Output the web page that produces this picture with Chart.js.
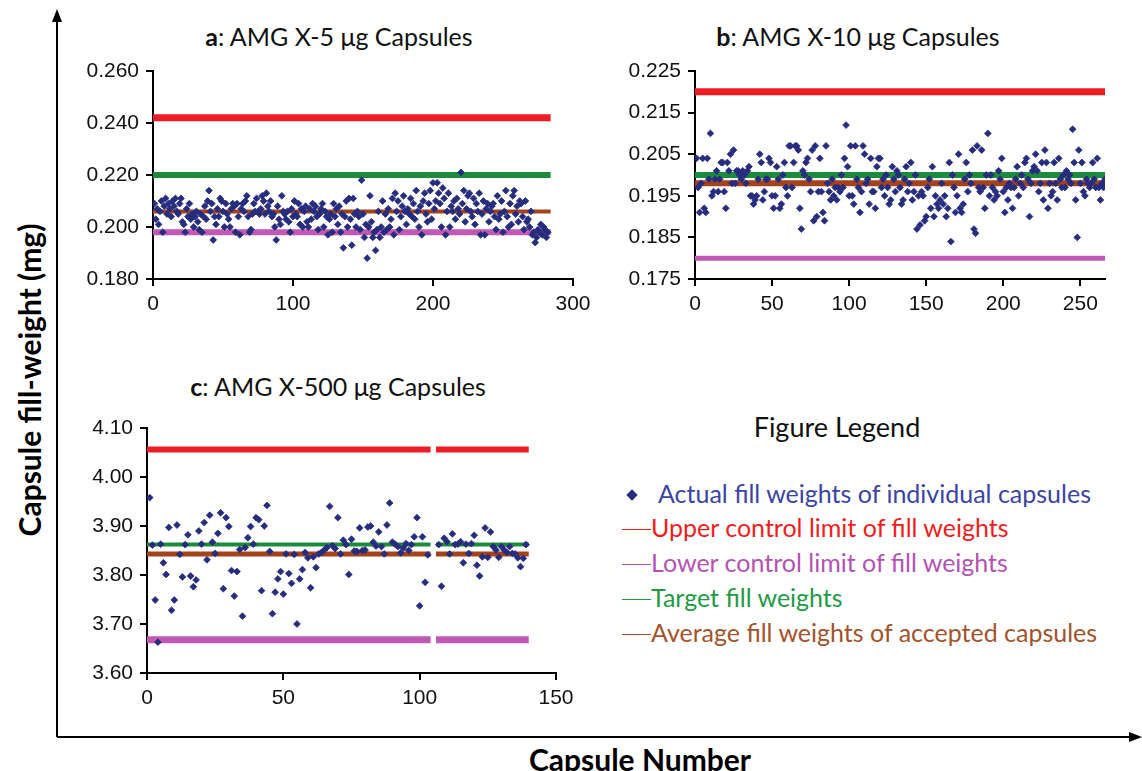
<!DOCTYPE html>
<html lang="en">
<head>
<meta charset="UTF-8">
<title>Capsule fill weights</title>
<script src="https://cdn.jsdelivr.net/npm/chart.js"></script>
<style>
    body {
        margin: 0;
        width: 1142px;
        height: 771px;
        overflow: hidden;
        position: relative;
        background: #fff;
        font-family: Lato, "Open Sans", sans-serif;
    }

    canvas, .ttl, .lg, #frame, .axTitle {
        position: absolute;
    }

    .ttl {
        width: 480px;
        text-align: center;
        font-size: 25px;
        line-height: 30px;
        color: #111;
        white-space: nowrap;
    }

    .lg {
        font-size: 25px;
        line-height: 30px;
        white-space: nowrap;
    }

    .axTitle {
        font-weight: bold;
        font-size: 30px;
        color: #000;
        white-space: nowrap;
    }
</style>
</head>

<body>
    <svg id="frame" width="1142" height="771" style="left:0;top:0">
        <line x1="57" y1="18" x2="57" y2="737" stroke="#000" stroke-width="2" />
        <polygon points="57,9 52,22 62,22" fill="#000" />
        <line x1="57" y1="737" x2="1132" y2="737" stroke="#000" stroke-width="2" />
        <polygon points="1142,737 1129,732 1129,742" fill="#000" />
    </svg>

    <div class="axTitle" id="yTitle"></div>
    <div class="axTitle" id="xTitle"></div>

    <div class="ttl" style="left:99px;top:21px"><b>a</b>: AMG X-5 &#956;g Capsules</div>
    <div class="ttl" style="left:618px;top:21px"><b>b</b>: AMG X-10 &#956;g Capsules</div>
    <div class="ttl" style="left:98px;top:371px"><b>c</b>: AMG X-500 &#956;g Capsules</div>

    <canvas id="chartA" width="545" height="270" style="left:60px;top:50px"></canvas>
    <canvas id="chartB" width="542" height="270" style="left:600px;top:50px"></canvas>
    <canvas id="chartC" width="540" height="310" style="left:55px;top:405px"></canvas>

    <div id="legend"></div>

    <script>
        var yAxisName = 'Capsule fill-weight (mg)';
        var xAxisName = 'Capsule Number';
        var pointName = 'Actual fill weights of individual capsules';
        var lineNames = ['Upper control limit of fill weights', 'Lower control limit of fill weights',
            'Target fill weights', 'Average fill weights of accepted capsules'];

        // control lines: upper, lower, target, average
        var limitsA = [0.242, 0.198, 0.220, 0.206];
        var limitsB = [0.220, 0.180, 0.200, 0.198];
        var limitsC = [4.056, 3.668, 3.862, 3.843];
        var lastA = 284;
        var lastB = 266;
        var lastC = 140;
        var gapC = [104, 106];

        var ticksAx = [0, 100, 200, 300];
        var ticksAy = [0.18, 0.20, 0.22, 0.24, 0.26];
        var ticksBx = [0, 50, 100, 150, 200, 250];
        var ticksBy = [0.175, 0.185, 0.195, 0.205, 0.215, 0.225];
        var ticksCx = [0, 50, 100, 150];
        var ticksCy = [3.6, 3.7, 3.8, 3.9, 4.0, 4.1];

        // fill weight of each capsule, capsule 1 first
        var weightsA = [
            0.209, 0.203, 0.207, 0.201, 0.206, 0.210, 0.198, 0.208, 0.211, 0.205, 0.209, 0.207, 0.204, 0.210, 0.208, 0.211, 0.206, 0.205, 0.209, 0.211,
            0.202, 0.201, 0.198, 0.207, 0.204, 0.209, 0.203, 0.205, 0.200, 0.204, 0.206, 0.202, 0.199, 0.205, 0.198, 0.204, 0.208, 0.203, 0.210, 0.214,
            0.206, 0.209, 0.195, 0.204, 0.201, 0.207, 0.204, 0.211, 0.210, 0.206, 0.200, 0.209, 0.205, 0.203, 0.200, 0.207, 0.209, 0.208, 0.198, 0.209,
            0.204, 0.197, 0.207, 0.209, 0.206, 0.210, 0.212, 0.204, 0.198, 0.199, 0.205, 0.209, 0.206, 0.211, 0.206, 0.205, 0.207, 0.212, 0.210, 0.205,
            0.213, 0.208, 0.206, 0.210, 0.204, 0.205, 0.200, 0.195, 0.208, 0.203, 0.201, 0.212, 0.206, 0.205, 0.203, 0.206, 0.202, 0.198, 0.207, 0.204,
            0.210, 0.205, 0.204, 0.209, 0.201, 0.207, 0.200, 0.206, 0.208, 0.202, 0.200, 0.207, 0.203, 0.209, 0.206, 0.208, 0.204, 0.199, 0.205, 0.207,
            0.209, 0.200, 0.206, 0.204, 0.197, 0.203, 0.205, 0.198, 0.209, 0.204, 0.207, 0.201, 0.208, 0.198, 0.205, 0.192, 0.204, 0.210, 0.200, 0.211,
            0.203, 0.193, 0.211, 0.205, 0.200, 0.206, 0.204, 0.199, 0.218, 0.205, 0.196, 0.201, 0.188, 0.200, 0.212, 0.202, 0.196, 0.198, 0.191, 0.199,
            0.206, 0.196, 0.200, 0.210, 0.198, 0.205, 0.199, 0.207, 0.200, 0.203, 0.211, 0.197, 0.213, 0.206, 0.210, 0.199, 0.204, 0.208, 0.212, 0.206,
            0.201, 0.207, 0.205, 0.211, 0.204, 0.209, 0.203, 0.214, 0.206, 0.200, 0.208, 0.197, 0.210, 0.213, 0.205, 0.202, 0.209, 0.214, 0.203, 0.217,
            0.207, 0.210, 0.217, 0.213, 0.209, 0.200, 0.215, 0.211, 0.197, 0.206, 0.213, 0.200, 0.208, 0.206, 0.210, 0.203, 0.211, 0.207, 0.205, 0.221,
            0.209, 0.214, 0.202, 0.207, 0.212, 0.213, 0.206, 0.204, 0.211, 0.201, 0.209, 0.206, 0.213, 0.197, 0.205, 0.210, 0.197, 0.207, 0.209, 0.202,
            0.206, 0.208, 0.209, 0.204, 0.199, 0.212, 0.203, 0.205, 0.210, 0.198, 0.206, 0.214, 0.204, 0.200, 0.209, 0.201, 0.212, 0.214, 0.205, 0.208,
            0.202, 0.210, 0.209, 0.204, 0.199, 0.210, 0.202, 0.203, 0.200, 0.206, 0.197, 0.198, 0.194, 0.196, 0.199, 0.198, 0.201, 0.197, 0.200, 0.199,
            0.196, 0.198
        ];

        var weightsB = [
            0.204, 0.197, 0.191, 0.198, 0.204, 0.192, 0.191, 0.204, 0.199, 0.210, 0.195, 0.196, 0.199, 0.201, 0.196, 0.199, 0.203, 0.203, 0.196, 0.192,
            0.203, 0.201, 0.205, 0.198, 0.206, 0.198, 0.201, 0.201, 0.200, 0.199, 0.201, 0.200, 0.198, 0.201, 0.202, 0.195, 0.195, 0.193, 0.194, 0.195,
            0.199, 0.205, 0.203, 0.194, 0.196, 0.199, 0.199, 0.204, 0.203, 0.195, 0.192, 0.195, 0.202, 0.199, 0.192, 0.193, 0.200, 0.203, 0.197, 0.195,
            0.207, 0.207, 0.197, 0.203, 0.207, 0.207, 0.206, 0.192, 0.187, 0.201, 0.200, 0.203, 0.204, 0.199, 0.196, 0.206, 0.189, 0.207, 0.190, 0.196,
            0.204, 0.196, 0.191, 0.189, 0.207, 0.198, 0.196, 0.194, 0.199, 0.195, 0.197, 0.194, 0.197, 0.196, 0.200, 0.197, 0.204, 0.212, 0.202, 0.195,
            0.207, 0.195, 0.193, 0.207, 0.199, 0.197, 0.191, 0.196, 0.207, 0.205, 0.198, 0.199, 0.193, 0.204, 0.196, 0.196, 0.192, 0.202, 0.204, 0.204,
            0.197, 0.199, 0.195, 0.200, 0.197, 0.193, 0.194, 0.202, 0.199, 0.196, 0.201, 0.200, 0.197, 0.193, 0.194, 0.199, 0.202, 0.196, 0.198, 0.203,
            0.194, 0.196, 0.200, 0.187, 0.195, 0.188, 0.196, 0.195, 0.189, 0.190, 0.197, 0.199, 0.192, 0.202, 0.190, 0.195, 0.193, 0.192, 0.194, 0.198,
            0.193, 0.195, 0.190, 0.192, 0.203, 0.184, 0.200, 0.197, 0.191, 0.195, 0.205, 0.192, 0.191, 0.193, 0.199, 0.203, 0.196, 0.200, 0.198, 0.206,
            0.187, 0.186, 0.207, 0.197, 0.196, 0.206, 0.197, 0.192, 0.200, 0.210, 0.195, 0.200, 0.197, 0.194, 0.196, 0.195, 0.201, 0.199, 0.204, 0.196,
            0.191, 0.197, 0.194, 0.198, 0.197, 0.192, 0.197, 0.199, 0.202, 0.195, 0.198, 0.200, 0.197, 0.203, 0.204, 0.199, 0.190, 0.198, 0.201, 0.202,
            0.205, 0.201, 0.196, 0.198, 0.203, 0.194, 0.206, 0.203, 0.192, 0.198, 0.195, 0.196, 0.203, 0.198, 0.194, 0.204, 0.199, 0.197, 0.200, 0.197,
            0.201, 0.199, 0.200, 0.198, 0.211, 0.203, 0.194, 0.185, 0.206, 0.198, 0.203, 0.196, 0.195, 0.199, 0.198, 0.197, 0.198, 0.203, 0.199, 0.197,
            0.204, 0.197, 0.194, 0.198, 0.197, 0.199
        ];

        var weightsC = [
            3.958, 3.861, 3.749, 3.663, 3.863, 3.825, 3.801, 3.897, 3.728, 3.749, 3.902, 3.842, 3.796, 3.862, 3.882, 3.798, 3.776, 3.790, 3.890, 3.863,
            3.907, 3.831, 3.922, 3.867, 3.844, 3.885, 3.927, 3.772, 3.917, 3.899, 3.809, 3.757, 3.807, 3.852, 3.716, 3.856, 3.876, 3.899, 3.863, 3.917,
            3.913, 3.768, 3.900, 3.942, 3.848, 3.721, 3.765, 3.792, 3.807, 3.761, 3.843, 3.803, 3.783, 3.842, 3.700, 3.792, 3.811, 3.846, 3.835, 3.774,
            3.837, 3.815, 3.843, 3.846, 3.851, 3.856, 3.940, 3.860, 3.854, 3.917, 3.843, 3.871, 3.862, 3.801, 3.873, 3.849, 3.848, 3.896, 3.850, 3.851,
            3.898, 3.900, 3.867, 3.859, 3.888, 3.858, 3.843, 3.902, 3.947, 3.867, 3.863, 3.858, 3.845, 3.855, 3.864, 3.850, 3.862, 3.878, 3.917, 3.737,
            3.878, 3.785, 3.841, null, null, null, 3.862, 3.777, 3.875, 3.868, 3.843, 3.884, 3.862, 3.863, 3.868, 3.825, 3.863, 3.844, 3.864, 3.881,
            3.820, 3.798, 3.837, 3.896, 3.836, 3.888, 3.858, 3.851, 3.836, 3.858, 3.851, 3.846, 3.858, 3.844, 3.843, 3.835, 3.817, 3.834, 3.862
        ];

        var pointColor = '#262c7e';
        var lineColors = ['#ee1c24', '#c058b4', '#1c8c3c', '#a4421c'];
        var legendColors = ['#f21c1c', '#b352b3', '#1f9a45', '#a3532b'];
        var tickFont = { family: 'Liberation Sans', size: 21 };

        function limitSets(limits, last, widths, gap) {
            return limits.map(function (v, k) {
                var pts = [{ x: 0, y: v }];
                if (gap) {
                    pts.push({ x: gap[0], y: v }, { x: (gap[0] + gap[1]) / 2, y: null }, { x: gap[1], y: v });
                }
                pts.push({ x: last, y: v });
                return {
                    label: lineNames[k],
                    data: pts,
                    borderColor: lineColors[k],
                    borderWidth: widths[k],
                    pointRadius: 0,
                    spanGaps: false,
                    order: 1
                };
            });
        }

        function pointSet(weights) {
            return {
                label: pointName,
                data: weights.map(function (w, i) { return { x: i + 1, y: w }; }),
                showLine: false,
                pointStyle: 'rectRot',
                pointRadius: 3.4,
                pointBorderWidth: 0.8,
                pointBackgroundColor: pointColor,
                pointBorderColor: pointColor,
                order: 0
            };
        }

        function axis(ticks, min, max, digits, size, isY) {
            return {
                type: 'linear',
                min: min,
                max: max,
                afterBuildTicks: function (s) {
                    s.ticks = ticks.map(function (t) { return { value: t }; });
                },
                afterFit: function (s) {
                    if (isY) s.width = size; else s.height = size;
                },
                ticks: {
                    color: '#111',
                    font: tickFont,
                    padding: isY ? 7 : 6,
                    maxRotation: 0,
                    autoSkip: false,
                    callback: function (v) { return v.toFixed(digits); }
                },
                grid: { drawOnChartArea: false, drawTicks: true, tickLength: 7, color: '#000', lineWidth: 2 },
                border: { color: '#000', width: 2 }
            };
        }

        function panel(id, weights, limits, last, widths, gap, sc, pad) {
            new Chart(document.getElementById(id).getContext('2d'), {
                type: 'line',
                data: { datasets: limitSets(limits, last, widths, gap).concat([pointSet(weights)]) },
                options: {
                    responsive: false,
                    animation: false,
                    layout: { padding: pad },
                    plugins: { legend: { display: false }, tooltip: { enabled: false } },
                    scales: { x: sc.x, y: sc.y }
                }
            });
        }

        panel('chartA', weightsA, limitsA, lastA, [7, 6, 6, 4], null, {
            x: axis(ticksAx, 0, 300, 0, 41, false),
            y: axis(ticksAy, 0.18, 0.26, 3, 93, true)
        }, { left: 0, top: 21, right: 32, bottom: 0 });

        panel('chartB', weightsB, limitsB, lastB, [7, 5, 6, 6], null, {
            x: axis(ticksBx, 0, lastB, 0, 41, false),
            y: axis(ticksBy, 0.175, 0.225, 3, 95, true)
        }, { left: 0, top: 21, right: 37, bottom: 0 });

        panel('chartC', weightsC, limitsC, lastC, [6, 7, 4, 5], gapC, {
            x: axis(ticksCx, 0, 150, 0, 42, false),
            y: axis(ticksCy, 3.6, 4.1, 2, 92, true)
        }, { left: 0, top: 23, right: 39, bottom: 0 });

        // axis titles
        var yt = document.getElementById('yTitle');
        yt.textContent = yAxisName;
        yt.style.left = '29px';
        yt.style.top = '380px';
        yt.style.transform = 'translate(-50%, -50%) rotate(-90deg)';
        var xt = document.getElementById('xTitle');
        xt.textContent = xAxisName;
        xt.style.left = '640px';
        xt.style.top = '759px';
        xt.style.transform = 'translate(-50%, -50%)';

        // figure legend
        var lg = document.getElementById('legend');
        var head = document.createElement('div');
        head.className = 'lg';
        head.textContent = 'Figure Legend';
        head.style.cssText = 'left:837px;top:427px;transform:translate(-50%,-50%);color:#111;font-size:27px';
        lg.appendChild(head);

        var first = document.createElement('div');
        first.className = 'lg';
        first.style.cssText = 'left:624px;top:478px;color:#3a44a4';
        first.innerHTML = '<span style="display:inline-block;width:8px;height:8px;background:' + pointColor +
            ';transform:rotate(45deg);margin:0 22px 4px 4px"></span>' + pointName;
        lg.appendChild(first);

        lineNames.forEach(function (name, k) {
            var row = document.createElement('div');
            row.className = 'lg';
            row.style.cssText = 'left:622px;top:' + (512 + k * 35) + 'px;color:' + legendColors[k];
            row.innerHTML = '<span style="display:inline-block;width:29px;height:0;border-top:1.5px solid ' +
                legendColors[k] + ';vertical-align:middle;margin-bottom:2px"></span>' + name;
            lg.appendChild(row);
        });
    </script>
</body>

</html>
